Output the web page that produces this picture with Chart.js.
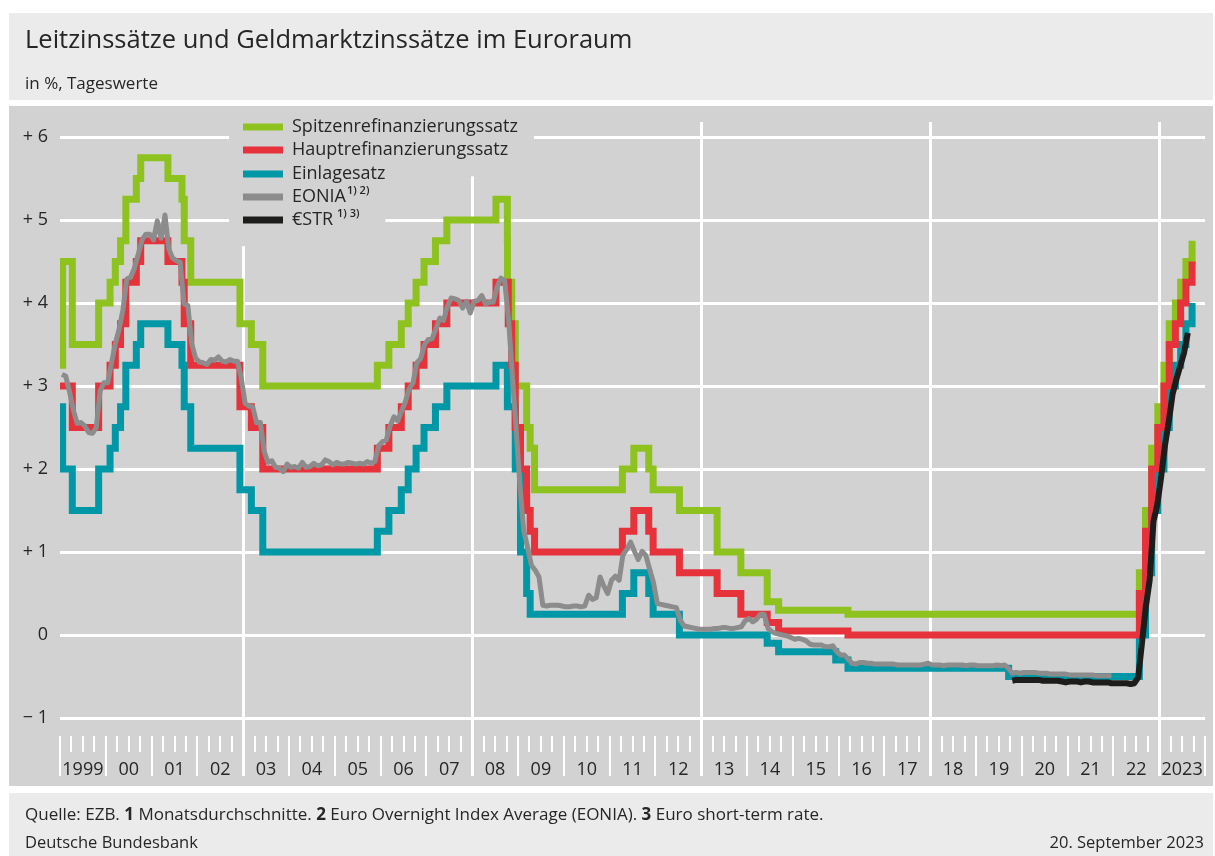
<!DOCTYPE html>
<html lang="de">
<head>
<meta charset="utf-8">
<title>Leitzinssätze und Geldmarktzinssätze im Euroraum</title>
<script src="https://cdn.jsdelivr.net/npm/chart.js@4.4.0/dist/chart.umd.min.js"></script>
<style>
  html, body { margin: 0; padding: 0; background: #fff; }
  canvas { display: block; }
</style>
</head>
<body>
<canvas id="grafik" width="1215" height="856"></canvas>
<script>
// Leitzinsen der EZB: Tag der Aenderung und ab dann gueltiger Satz
const aenderungen = ['1999-01-01','1999-01-04','1999-01-22','1999-04-09','1999-11-05',
  '2000-02-04','2000-03-17','2000-04-28','2000-06-09','2000-09-01','2000-10-06',
  '2001-05-11','2001-08-31','2001-09-18','2001-11-09','2002-12-06','2003-03-07','2003-06-06',
  '2005-12-06','2006-03-08','2006-06-15','2006-08-09','2006-10-11','2006-12-13','2007-03-14','2007-06-13',
  '2008-07-09','2008-10-08','2008-10-09','2008-10-15','2008-11-12','2008-12-10',
  '2009-01-21','2009-03-11','2009-04-08','2009-05-13',
  '2011-04-13','2011-07-13','2011-11-09','2011-12-14','2012-07-11','2013-05-08','2013-11-13',
  '2014-06-11','2014-09-10','2015-12-09','2016-03-16','2019-09-18',
  '2022-07-27','2022-09-14','2022-11-02','2022-12-21','2023-02-08','2023-03-22','2023-05-10',
  '2023-06-21','2023-08-02','2023-09-20'];
const spitzenrefi = [4.50,3.25,4.50,3.50,4.00,
  4.25,4.50,4.75,5.25,5.50,5.75,
  5.50,5.25,4.75,4.25,3.75,3.50,3.00,
  3.25,3.50,3.75,4.00,4.25,4.50,4.75,5.00,
  5.25,4.75,4.25,4.25,3.75,3.00,
  3.00,2.50,2.25,1.75,
  2.00,2.25,2.00,1.75,1.50,1.00,0.75,
  0.40,0.30,0.30,0.25,0.25,
  0.75,1.50,2.25,2.75,3.25,3.75,4.00,
  4.25,4.50,4.75];
const hauptrefi = [3.00,3.00,3.00,2.50,3.00,
  3.25,3.50,3.75,4.25,4.50,4.75,
  4.50,4.25,3.75,3.25,2.75,2.50,2.00,
  2.25,2.50,2.75,3.00,3.25,3.50,3.75,4.00,
  4.25,4.25,4.25,3.75,3.25,2.50,
  2.00,1.50,1.25,1.00,
  1.25,1.50,1.25,1.00,0.75,0.50,0.25,
  0.15,0.05,0.05,0.00,0.00,
  0.50,1.25,2.00,2.50,3.00,3.50,3.75,
  4.00,4.25,4.50];
const einlage = [2.00,2.75,2.00,1.50,2.00,
  2.25,2.50,2.75,3.25,3.50,3.75,
  3.50,3.25,2.75,2.25,1.75,1.50,1.00,
  1.25,1.50,1.75,2.00,2.25,2.50,2.75,3.00,
  3.25,2.75,2.75,2.75,2.75,2.00,
  1.00,0.50,0.25,0.25,
  0.50,0.75,0.50,0.25,0.00,0.00,0.00,
  -0.10,-0.20,-0.30,-0.40,-0.50,
  0.00,0.75,1.50,2.00,2.50,3.00,3.25,
  3.50,3.75,4.00];

// Monatsdurchschnitte EONIA, Jan 1999 bis Dez 2021
const eoniaBeginn = 1999;
const eonia = [
  3.14,3.12,2.93,2.71,2.55,2.56,2.52,2.44,2.43,2.50,2.94,3.04,
  3.04,3.28,3.51,3.69,3.92,4.29,4.31,4.42,4.59,4.76,4.83,4.83,
  4.76,4.99,4.78,5.06,4.65,4.54,4.51,4.49,3.99,3.97,3.51,3.34,
  3.29,3.28,3.26,3.32,3.31,3.35,3.30,3.29,3.32,3.30,3.30,3.09,
  2.79,2.76,2.75,2.56,2.56,2.21,2.08,2.10,2.02,2.01,1.97,2.06,
  2.02,2.03,2.01,2.08,2.02,2.03,2.07,2.04,2.05,2.11,2.09,2.05,
  2.08,2.06,2.06,2.08,2.07,2.06,2.07,2.06,2.09,2.07,2.09,2.28,
  2.33,2.35,2.52,2.63,2.58,2.70,2.81,2.97,3.04,3.28,3.33,3.50,
  3.56,3.57,3.69,3.82,3.79,3.96,4.06,4.05,4.03,3.94,4.02,3.88,
  4.02,4.03,4.09,3.99,4.01,4.01,4.19,4.30,4.27,3.82,3.15,2.49,
  1.81,1.26,1.06,0.84,0.78,0.70,0.36,0.35,0.36,0.36,0.36,0.35,
  0.34,0.34,0.35,0.35,0.34,0.35,0.48,0.43,0.45,0.70,0.59,0.50,
  0.66,0.71,0.66,0.97,1.03,1.12,1.01,0.91,1.01,0.96,0.79,0.63,
  0.38,0.37,0.36,0.35,0.34,0.33,0.18,0.11,0.10,0.09,0.08,0.07,
  0.07,0.07,0.07,0.08,0.08,0.09,0.09,0.08,0.08,0.09,0.10,0.17,
  0.20,0.16,0.19,0.25,0.25,0.08,0.04,0.02,0.01,0.00,-0.01,-0.03,
  -0.05,-0.04,-0.05,-0.07,-0.11,-0.12,-0.12,-0.12,-0.14,-0.14,-0.13,-0.20,
  -0.24,-0.24,-0.29,-0.34,-0.35,-0.33,-0.33,-0.34,-0.34,-0.35,-0.35,-0.35,
  -0.35,-0.35,-0.35,-0.36,-0.36,-0.36,-0.36,-0.36,-0.36,-0.36,-0.35,-0.34,
  -0.36,-0.36,-0.36,-0.37,-0.36,-0.36,-0.36,-0.36,-0.36,-0.37,-0.36,-0.36,
  -0.37,-0.37,-0.37,-0.37,-0.37,-0.36,-0.37,-0.36,-0.40,-0.46,-0.45,-0.46,
  -0.45,-0.45,-0.45,-0.45,-0.46,-0.46,-0.46,-0.47,-0.47,-0.47,-0.47,-0.47,
  -0.48,-0.48,-0.48,-0.48,-0.48,-0.48,-0.48,-0.49,-0.49,-0.49,-0.49,-0.49];

// Monatsdurchschnitte €STR, Okt 2019 bis Aug 2023
const estrBeginn = 2019 + 9 / 12;
const estr = [
  -0.55,-0.54,-0.54,
  -0.54,-0.54,-0.54,-0.54,-0.54,-0.55,-0.55,-0.55,-0.55,-0.55,-0.56,-0.57,
  -0.56,-0.56,-0.56,-0.57,-0.56,-0.56,-0.57,-0.57,-0.57,-0.57,-0.57,-0.58,
  -0.58,-0.58,-0.58,-0.58,-0.59,-0.58,-0.51,-0.09,0.34,0.66,1.37,1.57,
  1.90,2.28,2.57,2.90,3.08,3.24,3.40,3.64];

const jahre = ['1999','00','01','02','03','04','05','06','07','08','09','10','11','12',
  '13','14','15','16','17','18','19','20','21','22','2023'];
const yWerte = [-1, 0, 1, 2, 3, 4, 5, 6];
const gitterJahre = [2003, 2008, 2013, 2018, 2023];
const legendeHoch = ['', '', '', '1) 2)', ' 1) 3)'];

const SCHRIFT = '"Open Sans", "Noto Sans", sans-serif';
const PLOT_BG = '#d2d2d2';
const TEXT = '#262626';

function jahrBruch(datum) {
  const d = new Date(datum + 'T00:00:00Z');
  const j = d.getUTCFullYear();
  const a = Date.UTC(j, 0, 1), e = Date.UTC(j + 1, 0, 1);
  return j + (d.getTime() - a) / (e - a);
}

function stufen(werte) {
  return aenderungen.map((d, i) => ({ x: jahrBruch(d), y: werte[i] }));
}

function monate(beginn, werte) {
  return werte.map((v, i) => ({ x: beginn + (i + 0.5) / 12, y: v }));
}

const hintergrund = {
  id: 'hintergrund',
  beforeDraw(chart) {
    const ctx = chart.ctx;
    ctx.save();
    ctx.fillStyle = '#fff';
    ctx.fillRect(0, 0, 1215, 856);
    ctx.fillStyle = '#ebebeb';
    ctx.fillRect(9, 13, 1204, 87);
    ctx.fillRect(9, 793, 1204, 63);
    ctx.fillStyle = PLOT_BG;
    ctx.fillRect(9, 106, 1204, 680);

    ctx.fillStyle = TEXT;
    ctx.textBaseline = 'alphabetic';
    ctx.font = '25.5px ' + SCHRIFT;
    ctx.fillText('Leitzinssätze und Geldmarktzinssätze im Euroraum', 25, 48);
    ctx.font = '17px ' + SCHRIFT;
    ctx.fillText('in %, Tageswerte', 25, 89);

    // Fussnoten mit fetten Ziffern
    const teile = [['Quelle: EZB. ', false], ['1', true], [' Monatsdurchschnitte. ', false],
      ['2', true], [' Euro Overnight Index Average (EONIA). ', false], ['3', true],
      [' Euro short-term rate.', false]];
    let x = 25;
    teile.forEach(t => {
      ctx.font = (t[1] ? 'bold ' : '') + '17px ' + SCHRIFT;
      ctx.fillText(t[0], x, 820);
      x += ctx.measureText(t[0]).width;
    });
    ctx.font = '16.5px ' + SCHRIFT;
    ctx.fillText('Deutsche Bundesbank', 25, 848);
    ctx.textAlign = 'right';
    ctx.fillText('20. September 2023', 1204, 848);
    ctx.restore();
  }
};

const achseUndLegende = {
  id: 'achseUndLegende',
  beforeDatasetsDraw(chart) {
    const ctx = chart.ctx;
    const sx = chart.scales.x;
    const top = chart.chartArea.top;
    ctx.save();
    ctx.strokeStyle = '#fff';

    // Striche: Quartale kurz, Jahre lang
    ctx.lineWidth = 2;
    for (let j = 1999; j <= 2024; j++) {
      for (let q = 0; q < 4; q++) {
        if (j === 2024 && q > 0) break;
        const px = Math.round(sx.getPixelForValue(j + q / 4));
        ctx.beginPath();
        ctx.moveTo(px, 736);
        ctx.lineTo(px, q === 0 ? 776 : 752);
        ctx.stroke();
      }
    }
    ctx.lineWidth = 3;
    gitterJahre.forEach(j => {
      const px = Math.round(sx.getPixelForValue(j)) + 0.5;
      ctx.beginPath();
      ctx.moveTo(px, top + 2);
      ctx.lineTo(px, 776);
      ctx.stroke();
    });

    // Legende, Hintergrund deckt Gitter ab
    const sets = chart.data.datasets;
    const zeilen = sets.map((ds, i) => {
      ctx.font = '18px ' + SCHRIFT;
      let b = ctx.measureText(ds.label).width;
      ctx.font = '600 11px ' + SCHRIFT;
      b += legendeHoch[i] ? ctx.measureText(legendeHoch[i]).width + 1 : 0;
      return { y: 127 + i * 23.3, b: b };
    });
    ctx.fillStyle = PLOT_BG;
    zeilen.forEach(z => {
      const y0 = Math.max(108, z.y - 24);
      ctx.fillRect(229, y0, 292 + z.b + 16 - 229, z.y + 26 - y0);
    });
    sets.forEach((ds, i) => {
      const z = zeilen[i];
      ctx.fillStyle = ds.borderColor;
      ctx.fillRect(243, Math.round(z.y) - 3.5, 40, 7);
      ctx.fillStyle = TEXT;
      ctx.textBaseline = 'middle';
      ctx.font = '18px ' + SCHRIFT;
      ctx.fillText(ds.label, 292, z.y);
      if (legendeHoch[i]) {
        const w = ctx.measureText(ds.label).width;
        ctx.font = '600 11px ' + SCHRIFT;
        ctx.fillText(legendeHoch[i], 292 + w + 1, z.y - 6);
      }
    });
    ctx.restore();
  }
};

const stufenLinie = { stepped: 'before', borderWidth: 7, borderJoinStyle: 'miter', borderCapStyle: 'butt', pointRadius: 0 };

new Chart(document.getElementById('grafik'), {
  type: 'line',
  data: {
    datasets: [
      Object.assign({ label: 'Spitzenrefinanzierungssatz', data: stufen(spitzenrefi), borderColor: '#8dc21f', order: 5 }, stufenLinie),
      Object.assign({ label: 'Hauptrefinanzierungssatz', data: stufen(hauptrefi), borderColor: '#e5323b', order: 3 }, stufenLinie),
      Object.assign({ label: 'Einlagesatz', data: stufen(einlage), borderColor: '#0098a6', order: 4 }, stufenLinie),
      { label: 'EONIA', data: monate(eoniaBeginn, eonia), borderColor: '#8c8c8c', borderWidth: 5,
        borderJoinStyle: 'round', pointRadius: 0, order: 2 },
      { label: '€STR', data: monate(estrBeginn, estr), borderColor: '#1d1d1b', borderWidth: 6,
        borderJoinStyle: 'round', pointRadius: 0, order: 1 }
    ]
  },
  options: {
    responsive: false,
    animation: false,
    devicePixelRatio: 1,
    layout: { padding: { top: 120, right: 10, left: 0, bottom: 0 } },
    plugins: { legend: { display: false }, tooltip: { enabled: false } },
    elements: { line: { tension: 0 } },
    scales: {
      x: {
        type: 'linear', min: 1999, max: 2024,
        afterBuildTicks: s => { s.ticks = jahre.map((l, i) => ({ value: 1999 + i + 0.5 })); },
        afterFit: s => { s.height = 118; s.paddingLeft = 0; s.paddingRight = 0; },
        grid: { display: false },
        border: { display: false },
        ticks: {
          autoSkip: false, maxRotation: 0, minRotation: 0, padding: 13,
          color: TEXT, font: { family: SCHRIFT, size: 18 },
          callback: (v, i) => jahre[i]
        }
      },
      y: {
        min: -1.24, max: 6.205,
        afterBuildTicks: s => { s.ticks = yWerte.map(v => ({ value: v })); },
        afterFit: s => { s.width = 60; s.paddingTop = 0; s.paddingBottom = 0; },
        grid: { color: '#fff', lineWidth: 3, drawTicks: false },
        border: { display: false },
        ticks: {
          padding: 12, color: TEXT, font: { family: SCHRIFT, size: 18 },
          callback: v => v > 0 ? '+ ' + v : (v < 0 ? '\u2212 ' + Math.abs(v) : '0')
        }
      }
    }
  },
  plugins: [hintergrund, achseUndLegende]
});
</script>
</body>
</html>
